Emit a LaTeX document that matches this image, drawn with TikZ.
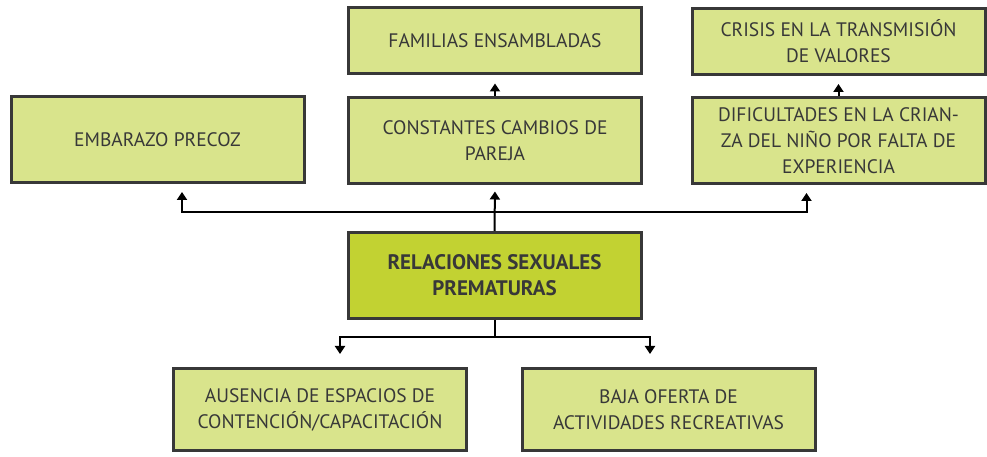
\documentclass[tikz,border=0pt]{standalone}
\usepackage{fontspec}
\setmainfont{PT Sans}
\usetikzlibrary{arrows.meta}
\definecolor{limelight}{HTML}{D9E48C}
\definecolor{limedark}{HTML}{C2D232}
\definecolor{boxline}{HTML}{383838}

\begin{document}
\begin{tikzpicture}[x=1pt,y=1pt,
    box/.style={draw=boxline, line width=3pt, fill=limelight, text=boxline,
      align=center, inner sep=0pt, minimum width=293pt, minimum height=86pt,
      font=\fontsize{19.5}{26}\selectfont},
    low/.style={minimum height=66pt},
    core/.style={fill=limedark, font=\fontsize{21}{26}\selectfont\bfseries},
    link/.style={line width=2pt},
    arr/.style={link, -{Triangle[length=8pt,width=10pt]}}]
  \useasboundingbox (0,0) rectangle (987,457);
  % upper rows
  \node[box] (emb) at (157.5,317.5) {EMBARAZO PRECOZ};
  \node[box] (cam) at (495,316.5) {CONSTANTES CAMBIOS DE\\PAREJA};
  \node[box] (dif) at (838.5,316.5) {DIFICULTADES EN LA CRIAN-\\ZA DEL NIÑO POR FALTA DE\\EXPERIENCIA};
  \node[box,low] (fam) at (495,416) {FAMILIAS ENSAMBLADAS};
  \node[box,low] (cri) at (838.5,415.5) {CRISIS EN LA TRANSMISIÓN\\DE VALORES};
  % centre and lower row
  \node[box,core] (rsp) at (494.5,181.5) {RELACIONES SEXUALES\\PREMATURAS};
  \node[box,minimum height=82pt] (aus) at (320,47.5) {AUSENCIA DE ESPACIOS DE\\CONTENCIÓN/CAPACITACIÓN};
  \node[box,minimum height=82pt] (baj) at (668.5,47.5) {BAJA OFERTA DE\\ACTIVIDADES RECREATIVAS};

  \coordinate (up) at ([yshift=19pt]rsp.north);
  \coordinate (dn) at ([yshift=-17pt]rsp.south);
  \draw[arr, shorten >=6.5pt] (rsp.north) -- (cam.south);
  \draw[arr, shorten >=8pt] (up) -| ([xshift=24.5pt]emb.south);
  \draw[arr, shorten >=8pt] (up) -| ([xshift=-32pt]dif.south);
  \draw[arr, shorten >=8pt] (cam.north) -- (fam.south);
  \draw[arr, shorten >=8pt] (dif.north) -- (cri.south);
  \draw[link] (rsp.south) -- (dn);
  \draw[arr, shorten >=13pt] (dn) -| ([xshift=20pt]aus.north);
  \draw[arr, shorten >=13pt] (dn) -| ([xshift=-18.5pt]baj.north);
\end{tikzpicture}
\end{document}
